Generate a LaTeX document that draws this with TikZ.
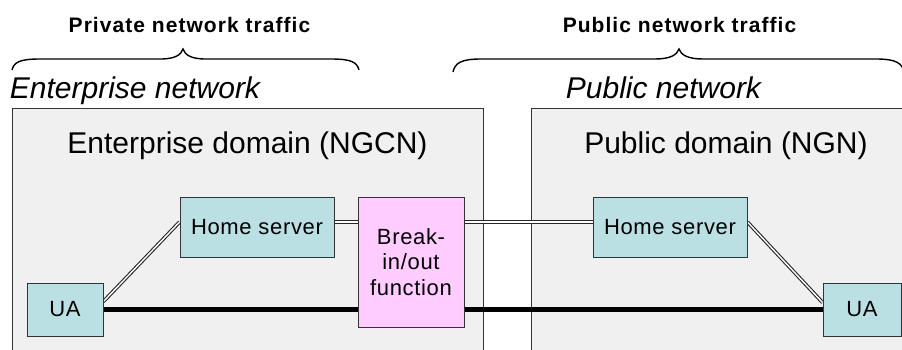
\documentclass[tikz,border=0pt]{standalone}
\usepackage{fontspec}
\setmainfont{Liberation Sans}
\newfontfamily\boxfont[LetterSpace=3]{Liberation Sans}
\newfontfamily\trafficfont[LetterSpace=5]{Liberation Sans}
\usetikzlibrary{backgrounds}
\definecolor{dombg}{RGB}{240,240,240}
\definecolor{cyanbox}{RGB}{187,224,227}
\definecolor{pinkbox}{RGB}{255,204,255}
\definecolor{edge}{RGB}{51,51,51}
\begin{document}
\begin{tikzpicture}[x=1pt,y=-1pt,
  dombox/.style={draw=edge,line width=1pt},
  domfill/.style={fill=dombg},
  entity/.style={draw=edge,line width=0.9pt,fill=cyanbox,inner sep=0pt,
    font=\boxfont\fontsize{22}{25.5}\selectfont},
  breakbox/.style={entity,fill=pinkbox,align=center},
  thickline/.style={line width=5pt,black},
  dbl/.style={draw=black!85,line width=1.1pt,double=white,double distance=1.4pt},
  brace/.style={draw=black,line width=1.4pt},
  traffic/.style={anchor=base,inner sep=0pt,font=\trafficfont\bfseries\fontsize{21}{25}\selectfont},
  netlabel/.style={anchor=base,inner sep=0pt,font=\itshape\fontsize{30}{36}\selectfont},
  domlabel/.style={anchor=base,inner sep=0pt,font=\fontsize{30}{36}\selectfont}
]
\useasboundingbox (0,0) rectangle (902,349);

% labels
\node[traffic] (privt) at (189.5,32) {Private network traffic};
\node[traffic] (pubt) at (679.5,32) {Public network traffic};
\node[netlabel] (entnet) at (135,98) {Enterprise network};
\node[netlabel] (pubnet) at (663.5,98) {Public network};

% braces
\draw[brace] (12,70) .. controls (14,62) and (20,59) .. (40,59) -- (160,59)
  .. controls (175,59) and (181,55) .. (183,49)
  .. controls (185,55) and (191,59) .. (206,59) -- (331,59)
  .. controls (351,59) and (357,62) .. (359,70);
\draw[brace] (453,72) .. controls (455,63) and (461,59) .. (481,59) -- (655,59)
  .. controls (670,59) and (677,55) .. (679,49)
  .. controls (681,55) and (688,59) .. (703,59) -- (876,59)
  .. controls (896,59) and (902,63) .. (904,72);

% nodes
\node[domlabel] (entdom) at (247.5,153) {Enterprise domain (NGCN)};
\node[domlabel] (pubdom) at (726,153) {Public domain (NGN)};
\node[entity,minimum width=76,minimum height=53] (ua1) at (65,309.5) {UA};
\node[entity,minimum width=154,minimum height=60] (hs1) at (257,227) {Home server};
\node[breakbox,minimum width=106,minimum height=130] (bio) at (411,262) {Break-\\in/out\\function};
\node[entity,minimum width=154,minimum height=60] (hs2) at (670,227) {Home server};
\node[entity,minimum width=78,minimum height=53] (ua2) at (862,309.5) {UA};

\begin{scope}[on background layer]
  \fill[white] (0,0) rectangle (902,349);
  \fill[domfill] (12,108) rectangle (483,360);
  \fill[domfill] (531,108) rectangle (910,360);
  \draw[dombox] (12,360) -- (12,108) -- (483,108) -- (483,360);
  \draw[dombox] (531,360) -- (531,108) -- (910,108);
  \draw[thickline] (ua1.east) -- (ua1.east -| bio.west);
  \draw[thickline] (ua2.west -| bio.east) -- (ua2.west);
  \draw[dbl] ([yshift=5pt]hs1.east) -- ([yshift=5pt]hs1.east -| bio.west);
  \draw[dbl] ([yshift=5pt]hs2.west -| bio.east) -- ([yshift=5pt]hs2.west);
  \draw[dbl] ([yshift=8pt]ua1.east) -- ([yshift=5pt]hs1.west);
  \draw[dbl] ([yshift=5pt]hs2.east) -- ([yshift=7pt]ua2.west);
\end{scope}
\end{tikzpicture}
\end{document}
